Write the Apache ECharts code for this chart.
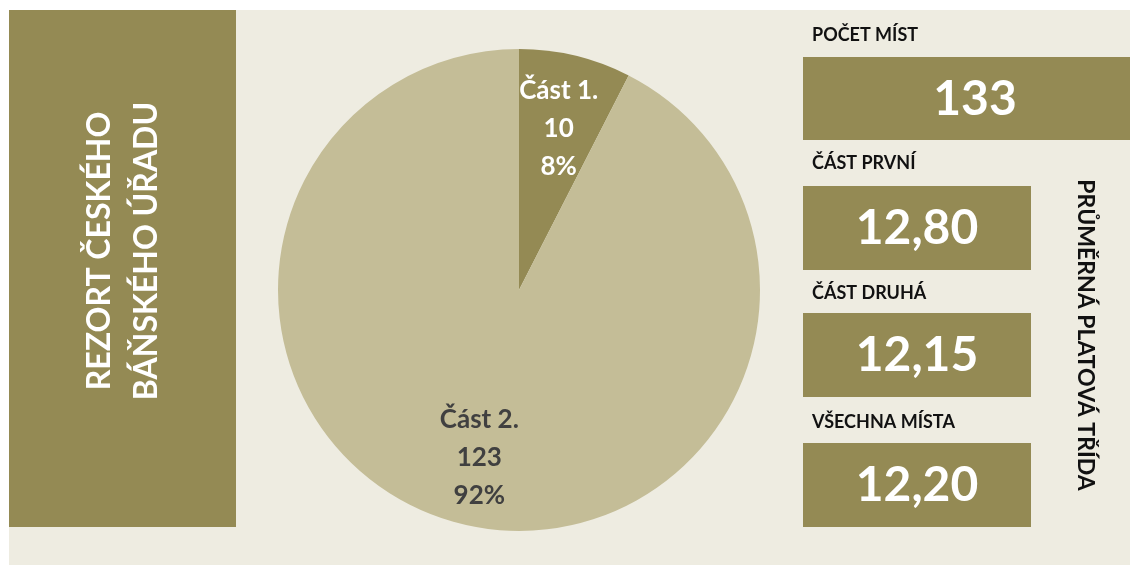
<!DOCTYPE html>
<html>
<head>
<meta charset="utf-8">
<script src="https://cdn.jsdelivr.net/npm/echarts@6/dist/echarts.min.js"></script>
<style>
html,body{margin:0;padding:0;background:#ffffff;}
#chart{width:1130px;height:565px;}
</style>
</head>
<body>
<div id="chart"></div>
<script>
// ---- data ----
const sliceNames = ['Část 1.', 'Část 2.'];
const sliceValues = [10, 123];
const sliceColors = ['#948A54', '#C4BD97'];
const sliceLabelColors = ['#FFFFFF', '#404040'];
const sideTitle = ['REZORT ČESKÉHO', 'BÁŇSKÉHO ÚŘADU'];
const countTitle = 'POČET MÍST';
const gradeTitles = ['ČÁST PRVNÍ', 'ČÁST DRUHÁ', 'VŠECHNA MÍSTA'];
const gradeValues = [12.80, 12.15, 12.20];
const gradeAxisTitle = 'PRŮMĚRNÁ PLATOVÁ TŘÍDA';

const DARK = '#948A54';
const BG = '#EEECE1';
const FONT = 'Lato, "Open Sans", sans-serif';

const total = sliceValues.reduce((a, b) => a + b, 0);
const fmt = v => v.toFixed(2).replace('.', ',');

const pieData = sliceNames.map((n, i) => ({
  name: n, value: sliceValues[i],
  itemStyle: { color: sliceColors[i] },
  label: { color: sliceLabelColors[i] }
}));

const graphics = [
  { type: 'rect', z: -10, shape: { x: 9, y: 10, width: 1121, height: 555 }, style: { fill: BG } },
  { type: 'rect', shape: { x: 9, y: 10, width: 227, height: 517 }, style: { fill: DARK } },
  { type: 'text', x: 123, y: 251, rotation: Math.PI / 2,
    style: { text: sideTitle.join('\n'), fill: '#fff', font: 'bold 32px ' + FONT,
      align: 'center', verticalAlign: 'middle', lineHeight: 47 } },
  { type: 'text', x: 812, y: 35,
    style: { text: countTitle, fill: '#111', font: 'bold 18px ' + FONT, align: 'left', verticalAlign: 'middle' } },
  { type: 'rect', shape: { x: 803, y: 57, width: 327, height: 83 }, style: { fill: DARK } },
  { type: 'text', x: 975, y: 100,
    style: { text: String(total), fill: '#fff', font: 'bold 48px ' + FONT, align: 'center', verticalAlign: 'middle' } },
  { type: 'text', x: 1085, y: 335, rotation: -Math.PI / 2,
    style: { text: gradeAxisTitle, fill: '#111', font: 'bold 23px ' + FONT, align: 'center', verticalAlign: 'middle' } }
];

const boxTops = [186, 313, 443];
const titleYs = [163, 293, 422];
gradeTitles.forEach((t, i) => {
  graphics.push({ type: 'text', x: 812, y: titleYs[i],
    style: { text: t, fill: '#111', font: 'bold 18px ' + FONT, align: 'left', verticalAlign: 'middle' } });
  graphics.push({ type: 'rect', shape: { x: 803, y: boxTops[i], width: 228, height: 84 }, style: { fill: DARK } });
  graphics.push({ type: 'text', x: 917, y: boxTops[i] + 43,
    style: { text: fmt(gradeValues[i]), fill: '#fff', font: 'bold 48px ' + FONT, align: 'center', verticalAlign: 'middle' } });
});

const chart = echarts.init(document.getElementById('chart'), null, { renderer: 'canvas' });
chart.setOption({
  animation: false,
  backgroundColor: '#ffffff',
  graphic: graphics,
  series: [
    {
      type: 'pie', center: [519, 290], radius: [0, 241], startAngle: 90, clockwise: true,
      silent: true, label: { show: false }, labelLine: { show: false },
      itemStyle: { borderWidth: 0 },
      data: pieData
    },
    {
      type: 'pie', center: [519, 290], radius: [92, 241], startAngle: 90, clockwise: true,
      silent: true, labelLine: { show: false },
      itemStyle: { color: 'rgba(0,0,0,0)', borderWidth: 0 },
      label: {
        show: true, position: 'inside', fontFamily: FONT, fontWeight: 'bold', fontSize: 26,
        lineHeight: 38, offset: [0, 3],
        formatter: p => p.name + '\n' + p.value + '\n' + Math.round(p.percent) + '%'
      },
      data: pieData.map(d => ({ name: d.name, value: d.value, itemStyle: { color: 'rgba(0,0,0,0)' }, label: d.label }))
    }
  ]
});
</script>
</body>
</html>
